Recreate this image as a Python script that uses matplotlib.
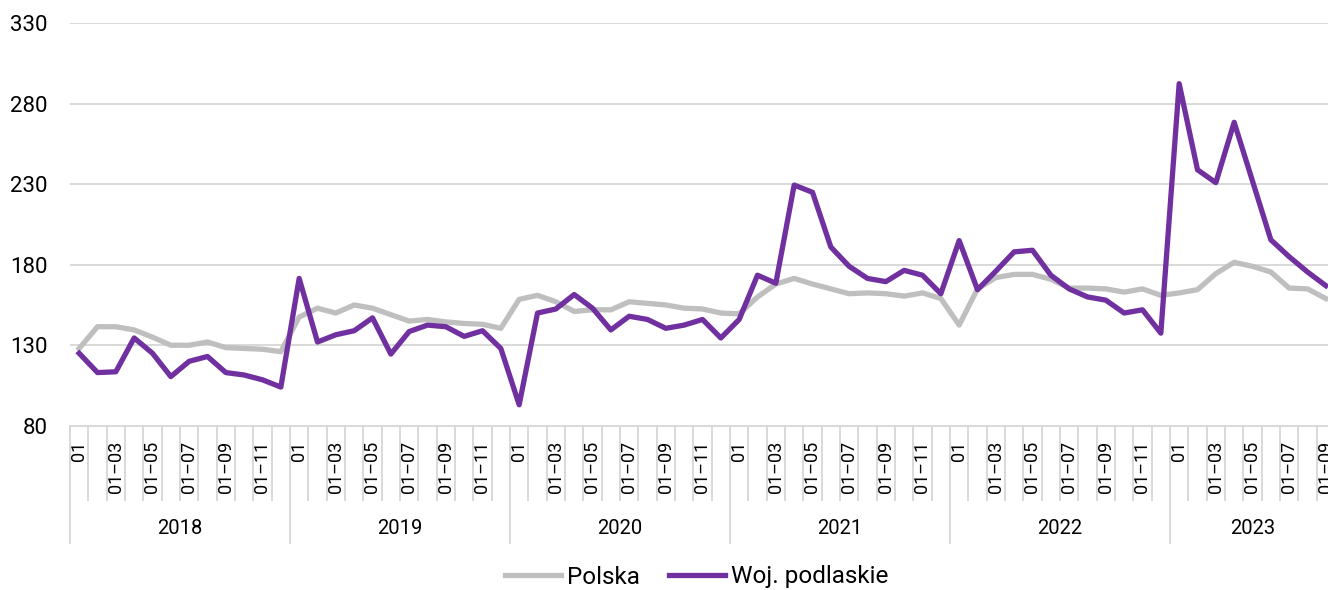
import numpy as np
import matplotlib
matplotlib.use('Agg')
import matplotlib.pyplot as plt
import matplotlib.transforms as mtransforms

plt.rcParams['font.family'] = ['Roboto', 'DejaVu Sans']

# data: monthly, 2018-01 .. 2023-09
years = ['2018', '2019', '2020', '2021', '2022', '2023']
months_per_year = [12, 12, 12, 12, 12, 9]

polska = [128, 141.5, 141.5, 139.5, 135, 130, 130, 132, 128.5, 128, 127.5, 126,
          147.5, 153, 150, 155, 153, 149, 145, 146, 144.5, 143.5, 143, 140.5,
          158.5, 161, 157, 151, 152, 152, 157, 156, 155, 153, 152.5, 150,
          149.5, 160, 168, 171.5, 168, 165, 162, 162.5, 162, 160.5, 162.5, 159,
          142.5, 165, 172, 174, 174, 171, 165.5, 165.5, 165, 163, 165, 161,
          162.5, 164.5, 174.5, 181.5, 179, 175.5, 165.5, 165, 159]

podlaskie = [125, 113, 113.5, 134.5, 125, 110.5, 120, 123, 113, 111.5, 108.5, 104,
             171.5, 132, 136.5, 139, 147, 124.5, 138.5, 142.5, 141.5, 135.5, 139, 128,
             93, 150, 152.5, 161.5, 153, 139.5, 148, 146, 140.5, 142.5, 146, 134.5,
             146, 173.5, 168.5, 229.5, 225, 191, 179, 171.5, 169.5, 176.5, 173.5, 162,
             195, 164.5, 176, 188, 189, 173.5, 165, 160, 158, 150, 152, 137.5,
             292.5, 239, 231, 268.5, 232, 195.5, 185, 175.5, 167]

month_labels = []
for n in months_per_year:
    for m in range(1, n + 1):
        if m == 1:
            month_labels.append('01')
        elif m % 2 == 1:
            month_labels.append('01\u2013%02d' % m)
        else:
            month_labels.append('')

grey = '#BFBFBF'
purple = '#7030A0'
gridc = '#D9D9D9'

W, H = 1328, 590
fig = plt.figure(figsize=(W / 100, H / 100), dpi=100)
ax_left, ax_right = 70 / W, 1335 / W
ax_bot, ax_top = 1 - 425.7 / H, 1 - 23.3 / H
ax = fig.add_axes([ax_left, ax_bot, ax_right - ax_left, ax_top - ax_bot])

x = np.arange(len(polska))
ax.plot(x, polska, color=grey, lw=3.8, label='Polska', solid_joinstyle='round')
ax.plot(x, podlaskie, color=purple, lw=3.8, label='Woj. podlaskie', solid_joinstyle='round')

ax.set_xlim(-0.5, len(x) - 0.5)
ax.set_ylim(80, 330)
ax.set_yticks(np.arange(80, 331, 50))
ax.yaxis.grid(True, color=gridc, lw=1.4)
ax.set_axisbelow(True)
for s in ['left', 'right', 'top']:
    ax.spines[s].set_visible(False)
ax.spines['bottom'].set_color(gridc)
ax.spines['bottom'].set_linewidth(1.4)
ax.tick_params(axis='y', length=0, pad=16, labelsize=16, labelcolor='#000000')

ax.set_xticks(x)
ax.set_xticklabels(month_labels, rotation=90, fontsize=13)
ax.tick_params(axis='x', length=0, pad=11)

# category separators and year groups
trans = mtransforms.blended_transform_factory(ax.transData, ax.transAxes)
axh = (ax_top - ax_bot) * H
short = -74 / axh
long_ = -117 / axh
start = 0
year_edges = [0]
for n in months_per_year:
    start += n
    year_edges.append(start)
for b in np.arange(-0.5, len(x), 1.0):
    ax.plot([b, b], [0, short], color=gridc, lw=1.4, transform=trans, clip_on=False)
for i, yr in enumerate(years):
    b = year_edges[i] - 0.5
    ax.plot([b, b], [0, long_], color=gridc, lw=1.4, transform=trans, clip_on=False)
    c = (year_edges[i] + year_edges[i + 1] - 1) / 2
    ax.text(c, -(528 - 425.7) / axh, yr, transform=trans, ha='center', va='center', fontsize=14.5)

fig.legend(loc='center', bbox_to_anchor=(697 / W, 1 - 577 / H), ncol=2, frameon=False,
           fontsize=17.5, handlelength=2.3, handletextpad=0.25, columnspacing=1.2)

fig.savefig('out.png', dpi=100)
